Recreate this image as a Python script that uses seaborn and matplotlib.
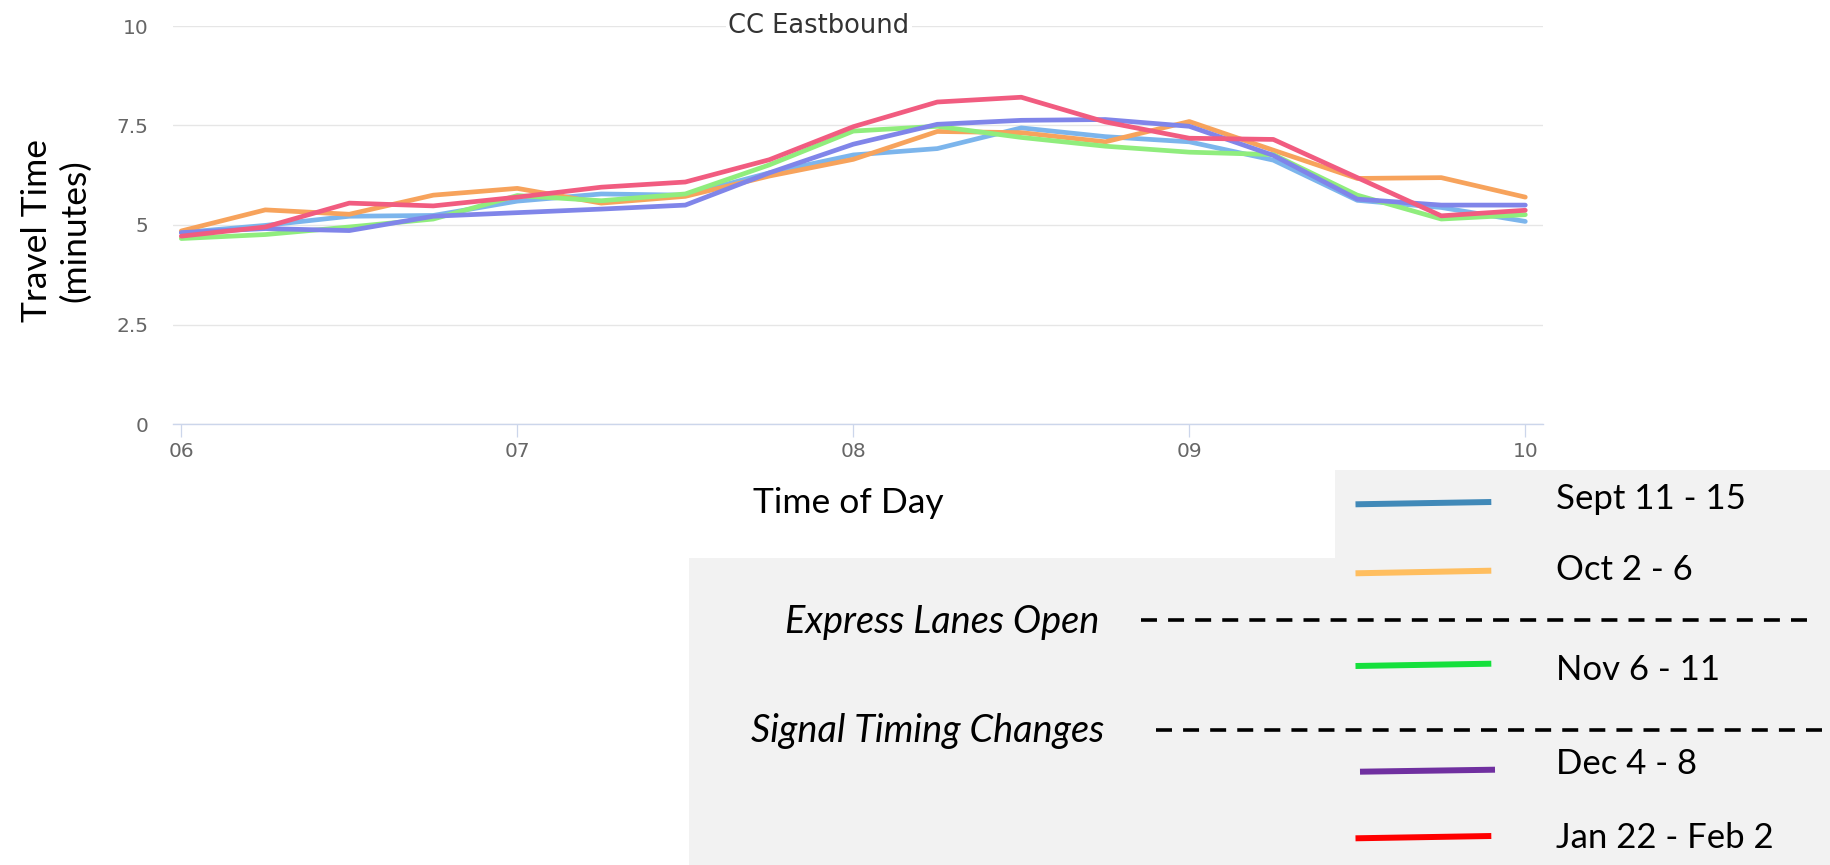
import matplotlib
matplotlib.use("Agg")
import matplotlib.pyplot as plt
from matplotlib.patches import Polygon
from matplotlib.lines import Line2D
import pandas as pd
import seaborn as sns

# ---- data -----------------------------------------------------------------
# sample times (hours after midnight, 15-minute bins)
hours = [6.00, 6.25, 6.50, 6.75, 7.00, 7.25, 7.50, 7.75, 8.00,
         8.25, 8.50, 8.75, 9.00, 9.25, 9.50, 9.75, 10.00]

periods = ["Sept 11 - 15", "Oct 2 - 6", "Nov 6 - 11", "Dec 4 - 8", "Jan 22 - Feb 2"]

sept = [4.81, 4.99, 5.22, 5.24, 5.60, 5.78, 5.75, 6.31, 6.76,
        6.92, 7.44, 7.22, 7.09, 6.63, 5.62, 5.44, 5.09]
octo = [4.85, 5.38, 5.27, 5.75, 5.92, 5.55, 5.72, 6.23, 6.65,
        7.35, 7.32, 7.09, 7.60, 6.88, 6.17, 6.19, 5.70]
nov = [4.66, 4.76, 4.95, 5.15, 5.74, 5.61, 5.78, 6.51, 7.36,
       7.48, 7.20, 6.98, 6.83, 6.77, 5.75, 5.15, 5.26]
dec = [4.81, 4.91, 4.86, 5.22, 5.31, 5.40, 5.50, 6.31, 7.03,
       7.53, 7.63, 7.65, 7.48, 6.75, 5.65, 5.50, 5.50]
jan = [4.72, 4.95, 5.55, 5.48, 5.70, 5.95, 6.08, 6.64, 7.47,
       8.09, 8.21, 7.59, 7.18, 7.15, 6.19, 5.23, 5.37]

x_ticks = [6, 7, 8, 9, 10]
x_tick_labels = ["06", "07", "08", "09", "10"]
y_ticks = [0, 2.5, 5, 7.5, 10]
y_tick_labels = ["0", "2.5", "5", "7.5", "10"]

chart_title = "CC Eastbound"
x_title = "Time of Day"
y_title = "Travel Time\n(minutes)"
milestones = ["Express Lanes Open", "Signal Timing Changes"]

# ---- styling ----------------------------------------------------------------
line_colors = ["#7cb5ec", "#f7a35c", "#90ed7d", "#8085e9", "#f15c80"]
key_colors = ["#4189b8", "#ffbe5f", "#15e03c", "#7030a0", "#ff0000"]

sns.set_theme(style="white")
plt.rcParams["font.family"] = ["DejaVu Sans"]
plt.rcParams["lines.scale_dashes"] = False

W, H = 1831, 865
fig = plt.figure(figsize=(W / 100, H / 100), dpi=100)


def fx(px):
    return px / W


def fy(py):
    return 1 - py / H


# plot area
left, right, top, bottom = 173, 1543, 26, 424
ax = fig.add_axes([fx(left), fy(bottom), fx(right - left), (bottom - top) / H])

df = pd.DataFrame({
    "hour": hours * len(periods),
    "minutes": sept + octo + nov + dec + jan,
    "period": [p for p in periods for _ in hours],
})

sns.lineplot(data=df, x="hour", y="minutes", hue="period", hue_order=periods,
             palette=dict(zip(periods, line_colors)), linewidth=3.4,
             legend=False, estimator=None, sort=False, ax=ax)

ax.set_xlim(5.9753, 10.0527)
ax.set_ylim(0, 10)
ax.set_xticks(x_ticks)
ax.set_xticklabels(x_tick_labels)
ax.set_yticks(y_ticks)
ax.set_yticklabels(y_tick_labels)
ax.set_xlabel("")
ax.set_ylabel("")
ax.set_axisbelow(True)
ax.yaxis.grid(True, color="#e6e6e6", linewidth=1.0)
ax.xaxis.grid(False)
for side in ("left", "right", "top"):
    ax.spines[side].set_visible(False)
ax.spines["bottom"].set_color("#ccd6eb")
ax.spines["bottom"].set_linewidth(1.0)
ax.tick_params(axis="x", bottom=True, length=9.4, width=0.9, color="#ccd6eb",
               pad=3.5, labelsize=14.5, labelcolor="#666666")
ax.tick_params(axis="y", left=False, length=0, pad=17.5, labelsize=14.5,
               labelcolor="#666666")

# chart title sits on the top gridline with a white backing
fig.text(fx(819), fy(33.3), chart_title, ha="center", va="baseline",
         fontsize=18.5, color="#333333", family=["DejaVu Sans"],
         bbox=dict(facecolor="white", edgecolor="none", pad=1.5), zorder=5)

# axis titles
fig.text(fx(848), fy(513), x_title, ha="center", va="baseline",
         fontsize=25.5, color="black", family=["Lato", "DejaVu Sans"])
fig.text(fx(56), fy(231), y_title, ha="center", va="center", rotation=90,
         multialignment="center", linespacing=1.25,
         fontsize=25.5, color="black", family=["Lato", "DejaVu Sans"])

# ---- key panel --------------------------------------------------------------
panel = Polygon([(fx(1335), fy(469.5)), (fx(W), fy(469.5)), (fx(W), fy(H)),
                 (fx(689), fy(H)), (fx(689), fy(557.7)), (fx(1335), fy(557.7))],
                closed=True, transform=fig.transFigure, facecolor="#f2f2f2",
                edgecolor="none", zorder=0)
fig.add_artist(panel)

key_rows = [  # (line y-left, line y-right, text baseline)
    (504.3, 502.0, 509.3),
    (573.3, 570.7, 580.0),
    (666.0, 663.7, 680.0),
    (771.7, 769.7, 774.0),
    (838.3, 836.0, 848.0),
]
key_x0 = [1355.5, 1355.5, 1355.5, 1360.0, 1355.5]
key_x1 = [1491.3, 1491.3, 1491.3, 1495.0, 1491.3]
for (yl, yr, yb), x0, x1, col, lab in zip(key_rows, key_x0, key_x1, key_colors, periods):
    fig.add_artist(Line2D([fx(x0), fx(x1)], [fy(yl), fy(yr)],
                          transform=fig.transFigure, color=col, linewidth=4.3,
                          solid_capstyle="butt", zorder=2))
    fig.text(fx(1556), fy(yb), lab, ha="left", va="baseline", fontsize=25,
             color="black", family=["Lato", "DejaVu Sans"], zorder=3)

# milestone separators
milestone_rows = [  # (text x-left, text baseline, dash x0, dash x1, dash y)
    (785, 632.7, 1141, 1813, 620.3),
    (751, 741.7, 1156, 1831, 730.0),
]
for (tx, tb, dx0, dx1, dy), lab in zip(milestone_rows, milestones):
    fig.text(fx(tx), fy(tb), lab, ha="left", va="baseline", fontsize=27.3,
             style="italic", color="black", family=["Lato", "DejaVu Sans"], zorder=3)
    fig.add_artist(Line2D([fx(dx0), fx(dx1)], [fy(dy), fy(dy)],
                          transform=fig.transFigure, color="black", linewidth=2.6,
                          dashes=(11.5, 8.0), zorder=2))

fig.savefig("out.png", dpi=100)
